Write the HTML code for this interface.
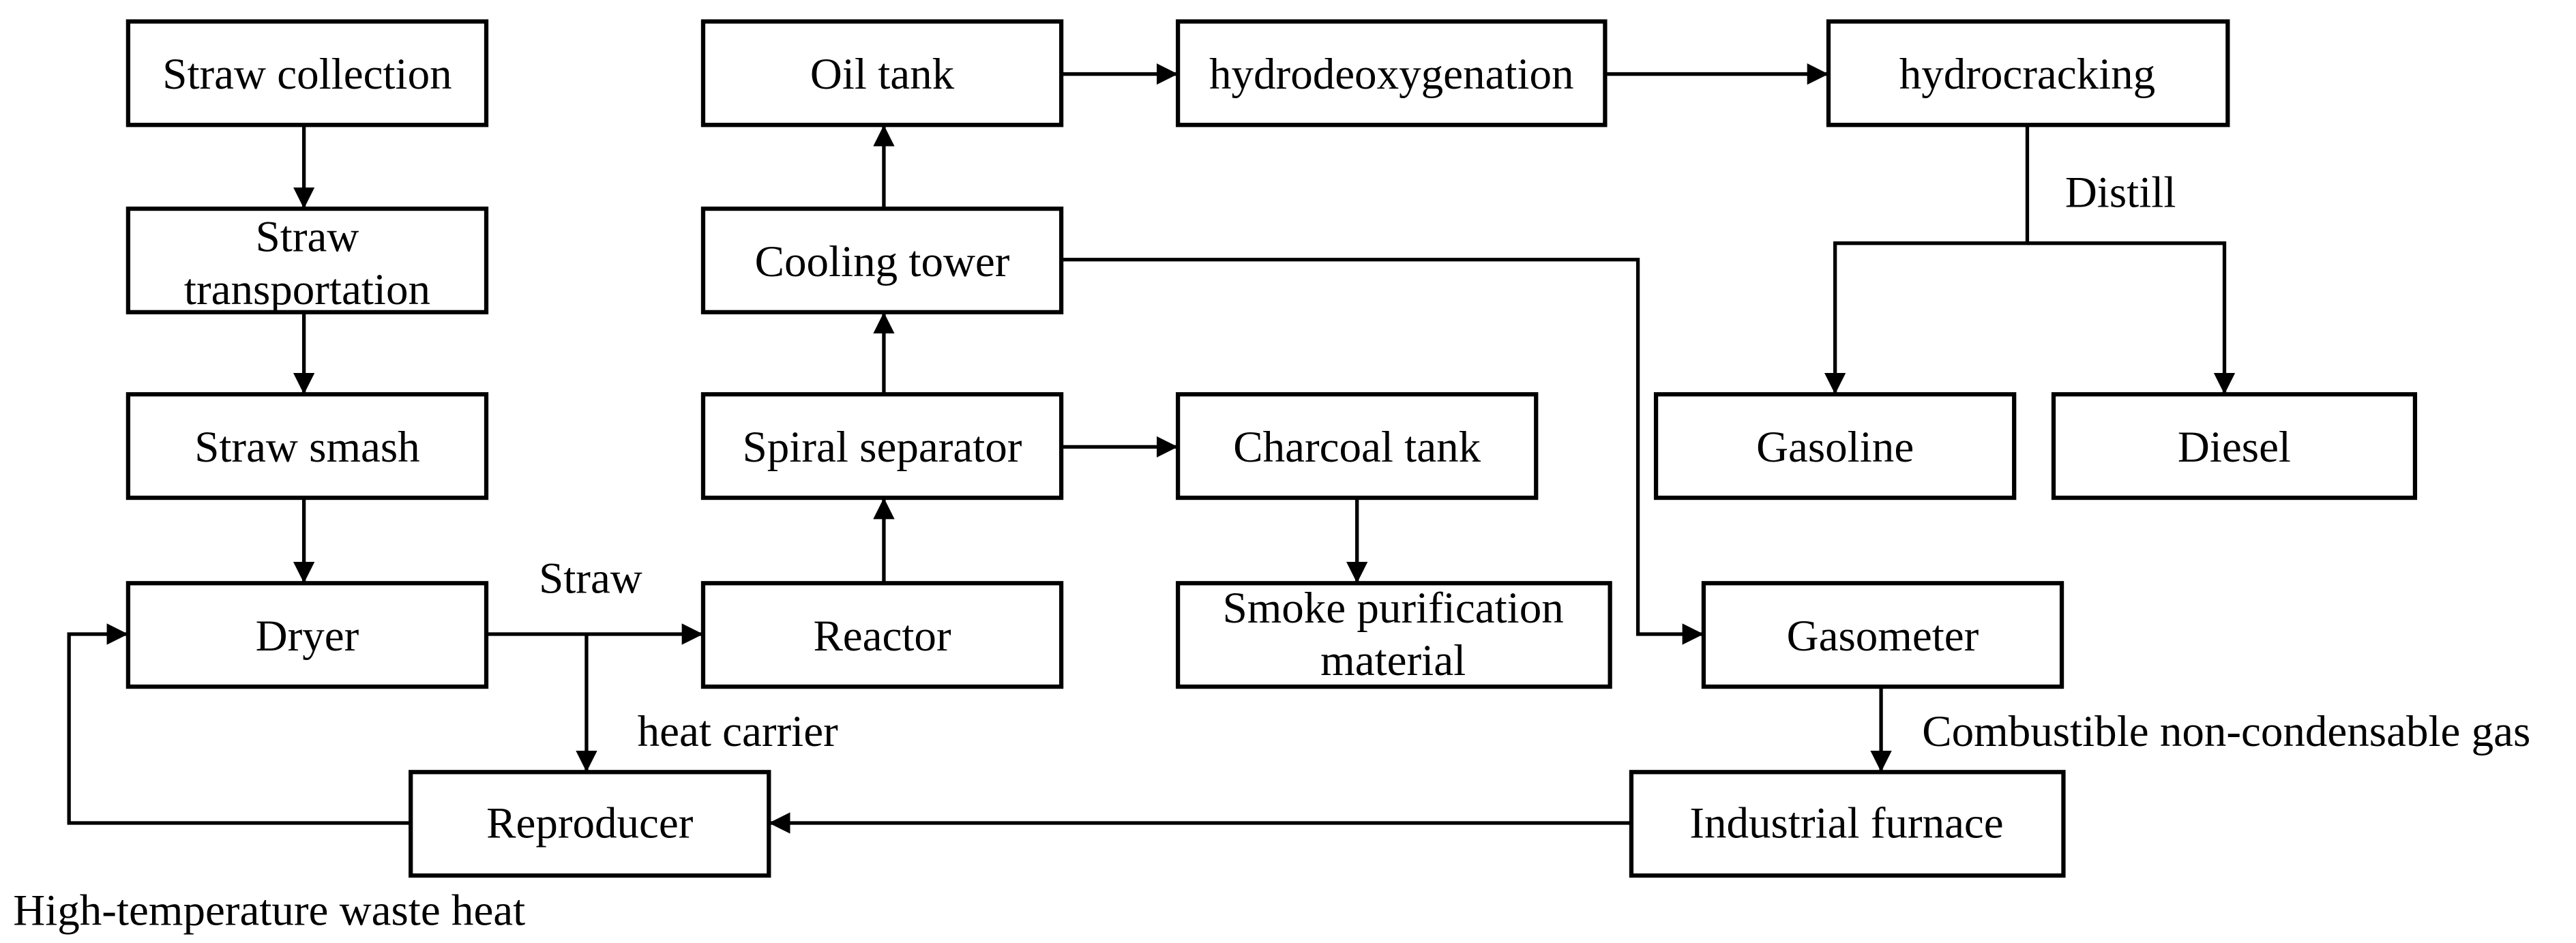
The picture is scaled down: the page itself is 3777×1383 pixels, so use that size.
<!DOCTYPE html>
<html><head><meta charset="utf-8"><style>html,body{margin:0;padding:0;background:#fff}</style></head>
<body>
<svg xmlns="http://www.w3.org/2000/svg" width="3777" height="1383" viewBox="0 0 1568 574" style="display:block">
<defs>
<marker id="b" viewBox="0 0 10 10" refX="10" refY="5" markerWidth="13" markerHeight="13" orient="auto" markerUnits="userSpaceOnUse"><path d="M0,0L10,5L0,10z" fill="#000"/></marker></defs>
<g fill="#fff" stroke="#000" stroke-width="2.6">
<rect x="78" y="13" width="218" height="63"/>
<rect x="78" y="127" width="218" height="63"/>
<rect x="78" y="240" width="218" height="63"/>
<rect x="78" y="355" width="218" height="63"/>
<rect x="250" y="470" width="218" height="63"/>
<rect x="428" y="13" width="218" height="63"/>
<rect x="428" y="127" width="218" height="63"/>
<rect x="428" y="240" width="218" height="63"/>
<rect x="428" y="355" width="218" height="63"/>
<rect x="717" y="13" width="260" height="63"/>
<rect x="1113" y="13" width="243" height="63"/>
<rect x="717" y="240" width="218" height="63"/>
<rect x="717" y="355" width="263" height="63"/>
<rect x="1008" y="240" width="218" height="63"/>
<rect x="1250" y="240" width="220" height="63"/>
<rect x="1037" y="355" width="218" height="63"/>
<rect x="993" y="470" width="263" height="63"/>
</g>
<g fill="none" stroke="#000" stroke-width="2.2" marker-end="url(#b)">
<path d="M185,76V127"/>
<path d="M185,190V240"/>
<path d="M185,303V355"/>
<path d="M296,386H428"/>
<path d="M357,386V470"/>
<path d="M538,355V303"/>
<path d="M538,240V190"/>
<path d="M538,127V76"/>
<path d="M646,272H717"/>
<path d="M826,303V355"/>
<path d="M646,45H717"/>
<path d="M977,45H1113"/>
<path d="M1234,76V148H1117V240"/>
<path d="M1234,148H1354V240"/>
<path d="M646,158H997V386H1037"/>
<path d="M1145,418V470"/>
<path d="M993,501H468"/>
<path d="M250,501H42V386H78"/>
</g>
<g font-family="Liberation Serif, serif" font-size="27" text-anchor="middle" fill="#000">
<text x="187" y="54">Straw collection</text>
<text x="187" y="153">Straw</text>
<text x="187" y="185">transportation</text>
<text x="187" y="281">Straw smash</text>
<text x="187" y="396">Dryer</text>
<text x="359" y="510">Reproducer</text>
<text x="537" y="54">Oil tank</text>
<text x="537" y="168">Cooling tower</text>
<text x="537" y="281">Spiral separator</text>
<text x="537" y="396">Reactor</text>
<text x="847" y="54">hydrodeoxygenation</text>
<text x="1234" y="54">hydrocracking</text>
<text x="826" y="281">Charcoal tank</text>
<text x="848" y="379">Smoke purification</text>
<text x="848" y="411">material</text>
<text x="1117" y="281">Gasoline</text>
<text x="1360" y="281">Diesel</text>
<text x="1146" y="396">Gasometer</text>
<text x="1124" y="510">Industrial furnace</text>
</g>
<g font-family="Liberation Serif, serif" font-size="27" fill="#000">
<text x="328" y="361">Straw</text>
<text x="388" y="454">heat carrier</text>
<text x="1257" y="126">Distill</text>
<text x="1170" y="454">Combustible non-condensable gas</text>
<text x="8" y="563">High-temperature waste heat</text>
</g>
</svg>
</body></html>
